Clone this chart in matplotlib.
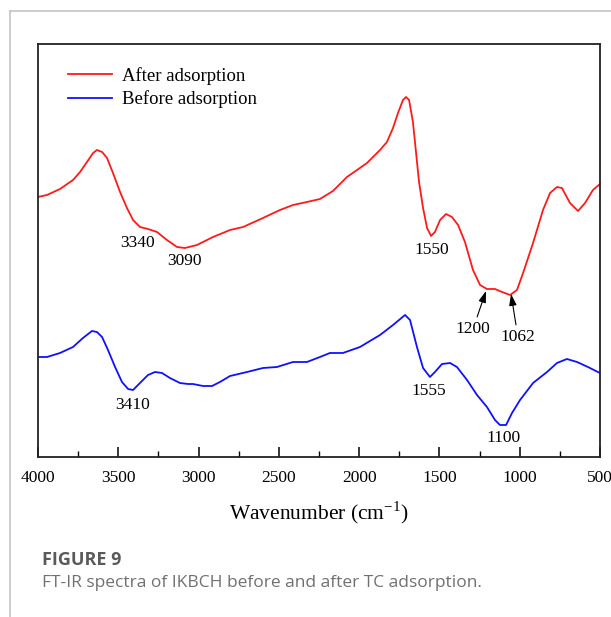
import matplotlib
matplotlib.use("Agg")
import matplotlib.pyplot as plt
from matplotlib.lines import Line2D
from matplotlib.ticker import MultipleLocator

# FT-IR spectra (transmittance in arbitrary units)
wn_after = [4000, 3944, 3863, 3782, 3738, 3695, 3657, 3633, 3601, 3570, 3533, 3489,
            3446, 3408, 3365, 3315, 3259, 3197, 3134, 3085, 3010, 2910, 2804, 2723,
            2599, 2493, 2412, 2325, 2244, 2163, 2076, 2013, 1951, 1870, 1827, 1789,
            1758, 1727, 1708, 1689, 1665, 1646, 1627, 1602, 1577, 1552, 1528, 1496,
            1459, 1422, 1384, 1341, 1291, 1247, 1204, 1154, 1110, 1060, 1017, 979,
            917, 855, 811, 768, 737, 687, 637, 593, 544, 500]
t_after = [260, 262, 268, 277, 285, 295, 304, 307, 305, 299, 284, 265,
           249, 237, 230, 228, 225, 217, 210, 209, 212, 220, 227, 230,
           239, 247, 252, 255, 258, 266, 280, 287, 294, 307, 315, 329,
           344, 357, 360, 357, 335, 305, 275, 249, 229, 221, 225, 237,
           243, 240, 232, 215, 187, 172, 168, 168, 165, 162, 167, 184,
           214, 247, 264, 270, 269, 254, 246, 254, 267, 273]

wn_before = [4000, 3944, 3863, 3782, 3720, 3664, 3633, 3601, 3564, 3520, 3477, 3439,
             3408, 3365, 3315, 3271, 3228, 3178, 3116, 3066, 3035, 2972, 2916, 2867,
             2804, 2698, 2599, 2512, 2412, 2325, 2244, 2182, 2101, 1995, 1870, 1789,
             1714, 1683, 1640, 1602, 1559, 1528, 1484, 1434, 1391, 1328, 1266, 1204,
             1154, 1123, 1085, 1048, 998, 917, 830, 768, 706, 643, 575, 513, 500]
t_before = [100, 100, 104, 110, 119, 126, 125, 120, 107, 90, 75, 68,
            67, 74, 82, 85, 84, 79, 74, 73, 73, 71, 71, 75,
            81, 85, 89, 90, 95, 95, 100, 104, 104, 110, 122, 132,
            142, 137, 110, 89, 80, 85, 93, 94, 90, 77, 62, 50,
            37, 32, 32, 44, 57, 74, 85, 94, 98, 95, 90, 85, 84]

series_labels = ["After adsorption", "Before adsorption"]

# peak labels: (text, x, y)
peak_labels = [("3340", 3383, 214), ("3090", 3091, 196), ("1550", 1546, 207),
               ("1555", 1565, 66), ("1100", 1098, 19), ("3410", 3408, 52)]
# arrowed labels: (text, text x, text y, tip x, tip y)
arrow_labels = [("1200", 1291, 128, 1210, 166), ("1062", 1011, 120, 1054, 163)]

serif = "Liberation Serif"

fig = plt.figure(figsize=(6.11, 6.17), dpi=100)
ax = fig.add_axes([38/611, 1-457/617, 562/611, 413/617])

ax.plot(wn_after, t_after, color="#ff1a1a", lw=1.3, label=series_labels[0],
        solid_joinstyle="round")
ax.plot(wn_before, t_before, color="#1010ff", lw=1.3, label=series_labels[1],
        solid_joinstyle="round")

ax.set_xlim(4000, 500)
ax.set_ylim(0, 413)
ax.xaxis.set_major_locator(MultipleLocator(500))
ax.xaxis.set_minor_locator(MultipleLocator(250))
ax.set_yticks([])
ax.tick_params(axis="x", which="major", direction="in", length=7, width=1.1, pad=9)
ax.tick_params(axis="x", which="minor", direction="in", length=4, width=1.0)
for lab in ax.get_xticklabels():
    lab.set_fontfamily(serif)
    lab.set_fontsize(12.5)
for sp in ax.spines.values():
    sp.set_linewidth(1.3)
    sp.set_color("#222222")

ax.set_xlabel("Wavenumber (cm$^{\\mathregular{-1}}$)", fontfamily=serif, fontsize=15.5,
              labelpad=10)

for txt, x, y in peak_labels:
    ax.text(x, y, txt, fontfamily=serif, fontsize=12.5, ha="center", va="center")
for txt, x, y, tx, ty in arrow_labels:
    ax.annotate(txt, xy=(tx, ty), xytext=(x, y), fontfamily=serif, fontsize=12.5,
                ha="center", va="center",
                arrowprops=dict(arrowstyle="-|>,head_length=0.55,head_width=0.18",
                                color="black", lw=0.8, shrinkA=1, shrinkB=0))

leg = ax.legend(loc="upper left", bbox_to_anchor=(0.053, 0.945), frameon=False,
                prop={"family": serif, "size": 13.5}, handlelength=2.35,
                handletextpad=0.55, labelspacing=0.3, borderaxespad=0, borderpad=0)

# page frame lines
fig.add_artist(Line2D([10/611, 10/611], [0, 1-11/617], color="#c4c4c4", lw=1.2))
fig.add_artist(Line2D([10/611, 1], [1-11/617, 1-11/617], color="#c4c4c4", lw=1.2))

fig.text(42/611, 1-560/617, "FIGURE 9", fontfamily="Open Sans", fontweight="bold",
         fontsize=13, color="#5a5a5a", va="center", ha="left")
fig.text(42/611, 1-583/617, "FT-IR spectra of IKBCH before and after TC adsorption.",
         fontfamily="Open Sans", fontsize=12.5, color="#707070", va="center", ha="left")

fig.savefig("out.png", dpi=100)
